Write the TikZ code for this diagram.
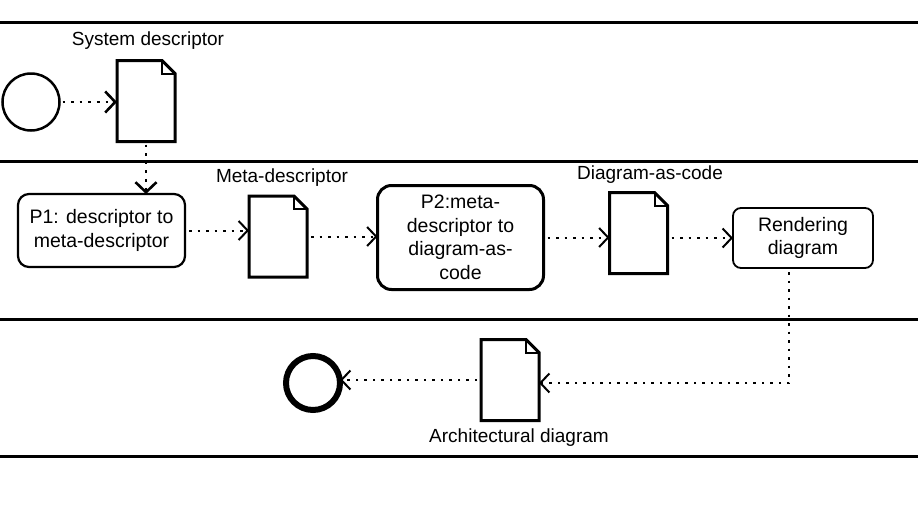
\documentclass[tikz,border=0pt]{standalone}
\usepackage{fontspec}
\setmainfont{Liberation Sans}
\usetikzlibrary{arrows.meta}
\begin{document}
\begin{tikzpicture}[x=1pt,y=-1pt,
  lane/.style={line width=3pt},
  docnode/.style={draw=none, minimum width=58pt, minimum height=81pt, inner sep=0pt, outer sep=0pt},
  docline/.style={line width=3pt, line join=miter},
  txt/.style={font=\fontsize{19.5}{23.5}\selectfont, align=center},
  lbl/.style={font=\fontsize{19}{23}\selectfont, inner sep=0pt},
  taskbox/.style={draw, txt, inner sep=0pt, outer sep=0pt},
  flow/.style={line width=2pt, dash pattern=on 2.5pt off 6pt, shorten <=4pt, -{Straight Barb[length=9pt,width=19pt,line width=2pt]}},
  flowthick/.style={line width=2.6pt, dash pattern=on 2.6pt off 6pt, shorten <=3pt, -{Straight Barb[length=10pt,width=21pt,line width=2.6pt]}}
]
\useasboundingbox (0,0) rectangle (918,517);
\fill[white] (0,0) rectangle (918,517);

% lanes
\draw[lane] (0,22) -- (918,22);
\draw[lane] (0,161) -- (918,161);
\draw[lane] (0,319) -- (918,319);
\draw[lane] (0,456) -- (918,456);

% events
\node[circle, draw, line width=2.5pt, minimum size=57pt, inner sep=0pt, outer sep=0pt] (start) at (31,102) {};
\node[circle, draw, line width=6pt, minimum size=54pt, inner sep=0pt, outer sep=0pt] (endc) at (313,383) {};

% documents
\node[docnode] (d1) at (146,101) {};
\node[docnode] (d2) at (278,236.5) {};
\node[docnode] (d3) at (638.5,233) {};
\node[docnode] (d4) at (510,380) {};
\foreach \d in {d1,d2,d3,d4}{
  \draw[docline] (\d.south west) -- (\d.north west) -- ([xshift=-13pt]\d.north east)
     -- ([yshift=-13pt]\d.north east) -- (\d.south east) -- cycle;
  \draw[line width=2pt] ([xshift=-13pt]\d.north east) -- ([xshift=-13pt,yshift=-13pt]\d.north east)
     -- ([yshift=-13pt]\d.north east);
}

% labels
\node[lbl] (l1) at (148,41) {System descriptor};
\node[lbl] (l2) at (282,178) {Meta-descriptor};
\node[lbl] (l3) at (650,175) {Diagram-as-code};
\node[lbl] (l4) at (519,438) {Architectural diagram};

% tasks
\node[taskbox, rounded corners=11pt, line width=2.2pt, minimum width=167pt, minimum height=73pt] (p1) at (101.5,230.5) {P1: descriptor to\\meta-descriptor};
\node[taskbox, rounded corners=14pt, line width=3pt, minimum width=166pt, minimum height=104pt] (p2) at (460.5,237.5) {P2:meta-\\descriptor to\\diagram-as-\\code};
\node[taskbox, rounded corners=8pt, line width=1.8pt, minimum width=140pt, minimum height=60pt] (rend) at (803,238) {Rendering\\diagram};

% connectors
\draw[flowthick] (start.east) -- (start.east -| d1.west);
\draw[flowthick] (d1.south) -- (d1.south |- p1.north);
\draw[flow] (p1.east) -- (p1.east -| d2.west);
\draw[flow] (d2.east) -- (d2.east -| p2.west);
\draw[flow] (p2.east) -- (p2.east -| d3.west);
\draw[flow] (d3.east |- rend.west) -- (rend.west);
\draw[flow] ([xshift=-14pt]rend.south) |- ([yshift=-3pt]d4.east);
\draw[flow] (d4.west) -- (d4.west -| endc.east);
\end{tikzpicture}
\end{document}
